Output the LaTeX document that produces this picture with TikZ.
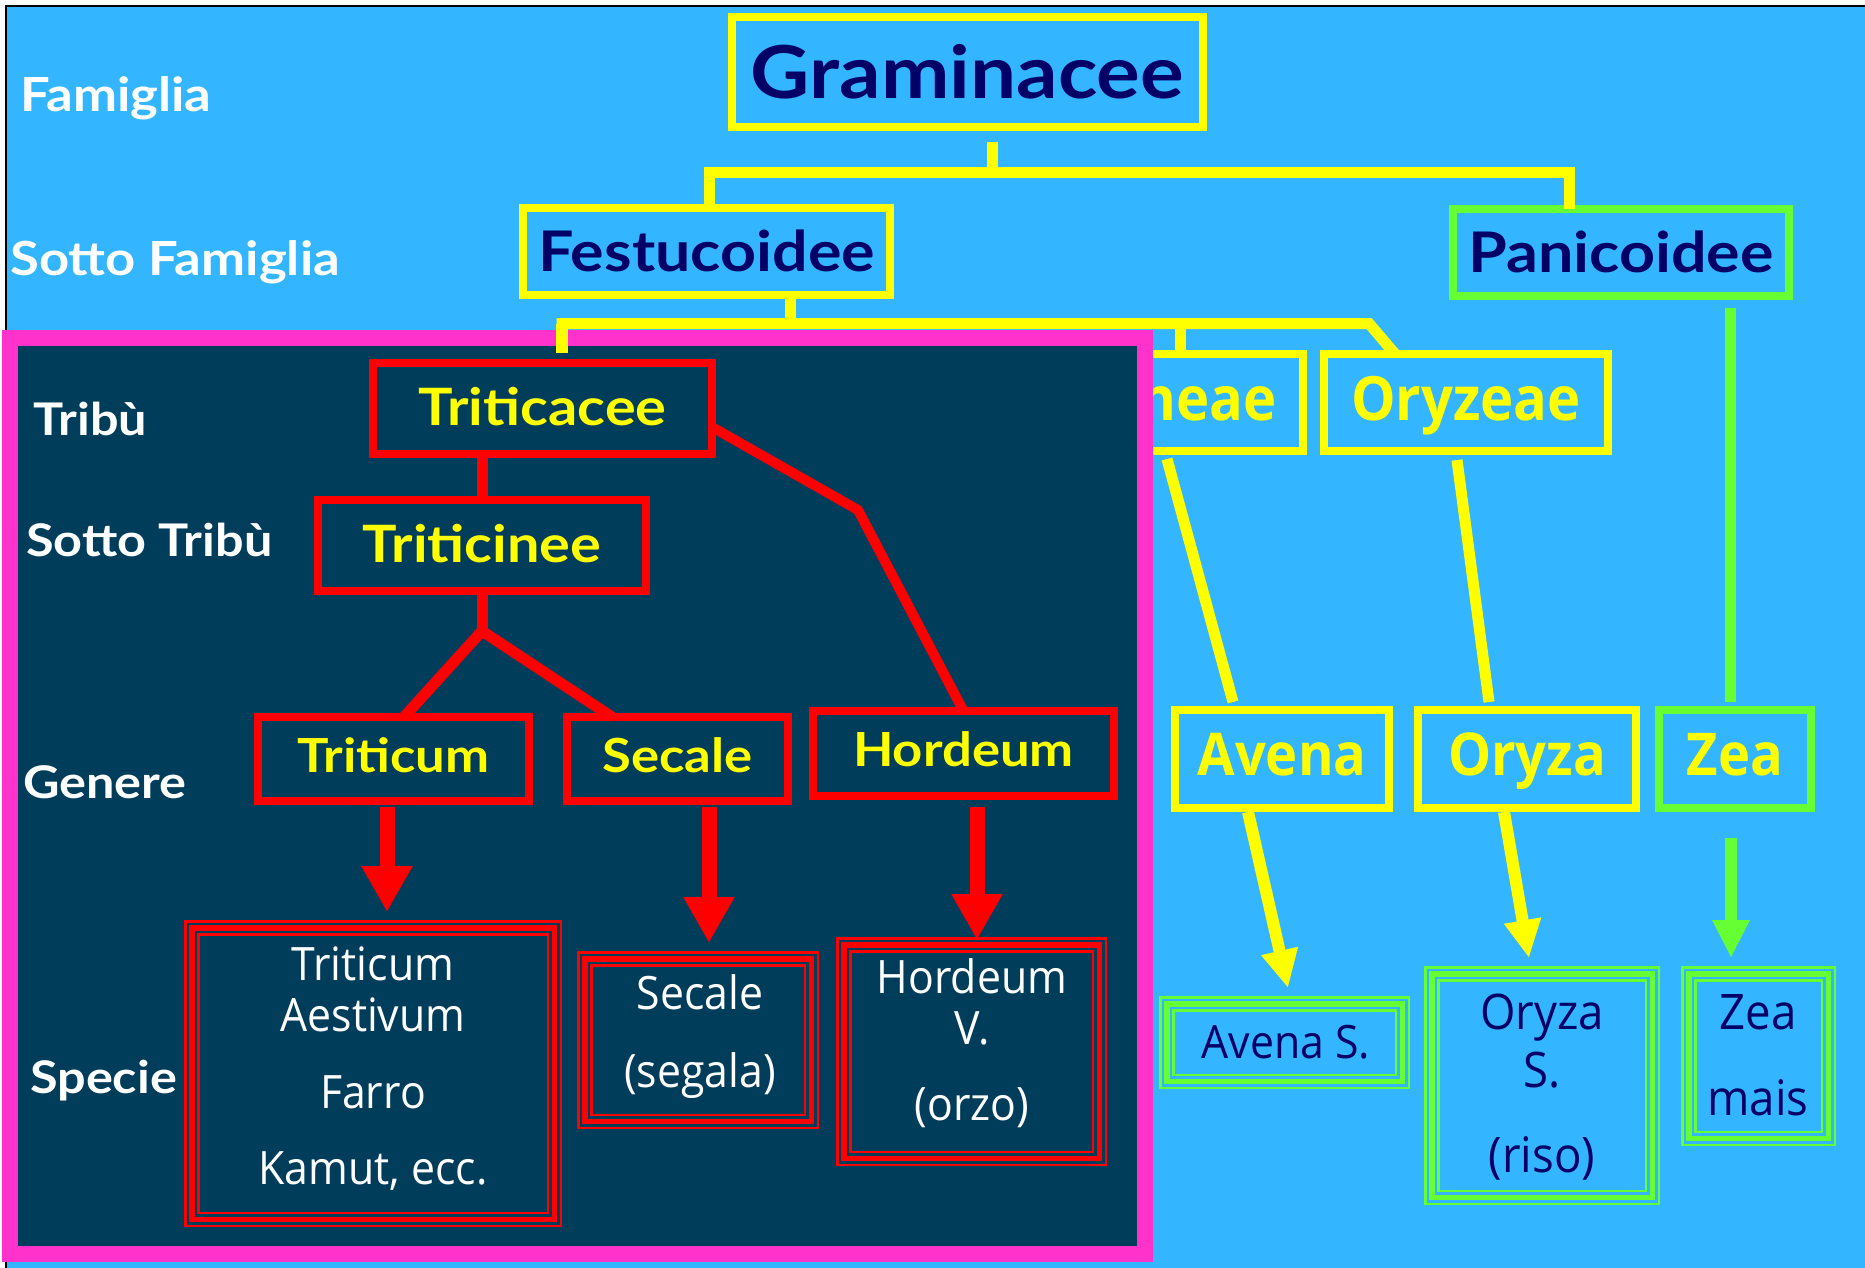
\documentclass[tikz,border=0pt]{standalone}
\usepackage{fontspec}
\usetikzlibrary{arrows.meta}
\newfontfamily\gillf{Lato}[FakeStretch=1.12]
\newfontfamily\comicf{Open Sans}[FakeStretch=0.93]
\newfontfamily\comicb{Open Sans}[FakeStretch=0.92]
\definecolor{bgblue}{RGB}{51,182,255}
\definecolor{darkfill}{RGB}{0,61,90}
\definecolor{pinkc}{RGB}{255,51,204}
\definecolor{yel}{RGB}{255,255,0}
\definecolor{grn}{RGB}{102,255,51}
\definecolor{navy}{RGB}{0,0,102}
\definecolor{redc}{RGB}{255,0,0}
\tikzset{
  bx/.style={line width=8pt, inner sep=0pt, outer sep=0pt},
  ybox/.style={bx, draw=yel},
  gbox/.style={bx, draw=grn},
  rbox/.style={bx, draw=redc},
  tribox/.style={line width=5.5pt, inner sep=0pt, outer sep=0pt},
  lab/.style={anchor=base west, inner sep=0pt, text=white},
  fGram/.style={font=\gillf\bfseries\fontsize{73}{80}\selectfont, text height=52pt, text depth=0pt},
  fSub/.style={font=\gillf\bfseries\fontsize{56}{64}\selectfont, text height=40pt, text depth=0pt},
  fTri/.style={font=\gillf\bfseries\fontsize{51.5}{60}\selectfont, text height=37pt, text depth=4pt},
  fGen/.style={font=\gillf\bfseries\fontsize{47}{54}\selectfont, text height=34pt, text depth=8pt},
  fLabA/.style={font=\gillf\bfseries\fontsize{47}{54}\selectfont},
  fLabB/.style={font=\gillf\bfseries\fontsize{45}{52}\selectfont},
  cTri/.style={font=\comicb\bfseries\fontsize{61}{70}\selectfont, text height=44pt, text depth=9pt},
  cGen/.style={font=\comicb\bfseries\fontsize{59}{68}\selectfont, text height=42pt, text depth=10pt},
  spw/.style={anchor=base, inner sep=0pt, text=white, font=\comicf\fontsize{46}{51}\selectfont},
  spn/.style={anchor=base, inner sep=0pt, text=navy, font=\comicf\fontsize{49}{58}\selectfont},
  ylink/.style={draw=yel, line width=11pt},
  glink/.style={draw=grn, line width=11pt},
  rlink/.style={draw=redc, line width=11pt},
  rarrow/.style={draw=redc, fill=redc, line width=15pt, -{Triangle[width=48pt,length=46pt]}},
  yarrow/.style={draw=yel, fill=yel, line width=12pt, -{Triangle[width=35pt,length=38pt]}},
  garrow/.style={draw=grn, fill=grn, line width=12pt, -{Triangle[width=35pt,length=38pt]}},
}
\begin{document}
\begin{tikzpicture}[x=1pt,y=-1pt]
\useasboundingbox (0,0) rectangle (1865,1268);
\fill[white] (0,0) rectangle (1865,1268);
\fill[bgblue] (6,6) rectangle (1865,1268);
\draw[black, line width=2pt] (6,1268) -- (6,6) -- (1865,6);

% ---- top level
\node[ybox, fGram, text=navy, minimum width=471pt, minimum height=110pt] (gram) at (967.5,72.5) {Graminacee};
\node[ybox, fSub, text=navy, minimum width=367pt, minimum height=87pt] (fest) at (706.5,251.5) {Festucoidee};
\node[gbox, fSub, text=navy, minimum width=336pt, minimum height=87pt] (pani) at (1621,252.5) {Panicoidee};

\node[lab, fLabA] (lFam) at (20,112) {Famiglia};
\node[lab, fLabA] (lSub) at (10,275) {Sotto Famiglia};

\coordinate (gStem) at (992,142);
\coordinate (gHub) at (992,172.5);
\coordinate (gLegF) at (709,172.5);
\coordinate (gLegP) at (1569,172.5);
\draw[ylink] (gStem) -- (gHub);
\draw[ylink, line join=miter] (gLegF |- fest.north) -- (gLegF) -- (gLegP) -- (gLegP |- pani.north);

% ---- tribes (right side)
\node[ybox, cTri, text=yel, minimum width=294pt, minimum height=97pt] (avenae) at (1156,402.5) {Aveneae};
\node[ybox, cTri, text=yel, minimum width=284pt, minimum height=97pt] (oryzeae) at (1466,402.5) {Oryzeae};

\coordinate (fJ) at (790,323.5);
\coordinate (fL) at (562,323.5);
\coordinate (fM) at (1180,323.5);
\coordinate (fR) at (1369,323.5);
\coordinate (fLend) at (562,353);
\draw[ylink] (fest.south -| fJ) -- (fJ);
\draw[ylink, line join=miter] (fLend) -- (fL) -- (fR) -- ([xshift=71pt]oryzeae.north west);
\draw[ylink] (fM) -- (avenae.north -| fM);

% ---- panel
\node[draw=pinkc, line width=16pt, fill=darkfill, inner sep=0pt, outer sep=0pt,
      minimum width=1135pt, minimum height=916pt] (panel) at (577.5,796) {};
\draw[ylink, line width=12pt] (fLend) -- (fL);

\node[lab, fLabB] (lTri) at (33,435) {Tribù};
\node[lab, fLabB] (lSTri) at (26,556) {Sotto Tribù};
\node[lab, fLabB] (lGen) at (23,798) {Genere};
\node[lab, fLabB] (lSpe) at (30,1093) {Specie};

% ---- red tree
\node[rbox, fTri, text=yel, minimum width=339pt, minimum height=91pt] (trc) at (542.5,408.5) {Triticacee};
\node[rbox, fTri, text=yel, minimum width=328pt, minimum height=91pt] (trn) at (482,545.5) {Triticinee};
\node[rbox, fGen, text=yel, minimum width=271pt, minimum height=84pt] (gTri) at (393.5,759) {Triticum};
\node[rbox, fGen, text=yel, minimum width=221pt, minimum height=84pt] (gSec) at (677.5,759) {Secale};
\node[rbox, fGen, text=yel, minimum width=301pt, minimum height=85pt] (gHor) at (963.5,753.5) {Hordeum};

\coordinate (rJ) at (482,631);
\coordinate (hK) at (858,510);
\draw[rlink] (trn.north |- trc.south) -- (trn.north);
\draw[rlink] (trn.south) -- (rJ);
\draw[rlink, line join=miter] ([xshift=10.5pt]gTri.north) -- (rJ) -- ([xshift=-65.5pt]gSec.north);
\draw[rlink, line width=10pt] ([yshift=-18.5pt]trc.east) -- (hK) -- (gHor.north);

% ---- species (red)
\node[tribox, draw=redc, minimum width=362.5pt, minimum height=291.5pt] (sTri) at (373,1073.5) {};
\node[tribox, draw=redc, minimum width=226.5pt, minimum height=162.5pt] (sSec) at (698,1040) {};
\node[tribox, draw=redc, minimum width=255.5pt, minimum height=213.5pt] (sHor) at (971.5,1051.5) {};
\foreach \n in {sTri,sSec,sHor}{
  \draw[redc, line width=2.5pt] ([shift={(-6.5pt,6.5pt)}]\n.north west) rectangle ([shift={(6.5pt,-6.5pt)}]\n.south east);
  \draw[redc, line width=2.5pt] ([shift={(6.5pt,-6.5pt)}]\n.north west) rectangle ([shift={(-6.5pt,6.5pt)}]\n.south east);
}
\node[spw] (tTri) at (373,980) {\begin{tabular}[t]{@{}c@{}}Triticum\\Aestivum\\[26pt]Farro\\[25pt]Kamut, ecc.\end{tabular}};
\node[spw] (tSec) at (700,1009) {\begin{tabular}[t]{@{}c@{}}Secale\\[27pt](segala)\end{tabular}};
\node[spw] (tHor) at (972,993) {\begin{tabular}[t]{@{}c@{}}Hordeum\\V.\\[25pt](orzo)\end{tabular}};

\draw[rarrow] ([xshift=-6.5pt,yshift=-6pt]gTri.south) -- ([xshift=14pt,yshift=15.75pt]sTri.north);
\draw[rarrow] ([xshift=31.5pt,yshift=-6pt]gSec.south) -- ([xshift=11pt,yshift=15.75pt]sSec.north);
\draw[rarrow] ([xshift=13.5pt,yshift=-11pt]gHor.south) -- ([xshift=5.5pt,yshift=4.75pt]sHor.north);

% ---- genera (right side)
\node[ybox, cGen, text=yel, minimum width=214pt, minimum height=98pt] (avena) at (1282,759) {Avena};
\node[ybox, cGen, text=yel, minimum width=218pt, minimum height=98pt] (oryza) at (1527,759) {Oryza};
\node[gbox, cGen, text=yel, minimum width=152pt, minimum height=98pt] (zea) at (1735,759) {Zea};

\draw[ylink, line width=11pt] ([xshift=11pt,yshift=-8pt]avenae.south) -- ([xshift=-49pt,yshift=8pt]avena.north);
\draw[ylink, line width=11pt] ([xshift=-9pt,yshift=-9pt]oryzeae.south) -- ([xshift=-38pt,yshift=8pt]oryza.north);
\draw[glink, line width=11pt] ([xshift=109pt,yshift=-12pt]pani.south) -- ([xshift=-5pt,yshift=8pt]zea.north);

% ---- species (green)
\node[tribox, draw=grn, minimum width=235.5pt, minimum height=77.5pt] (sAve) at (1284.5,1042.5) {};
\node[tribox, draw=grn, minimum width=220.5pt, minimum height=223.5pt] (sOry) at (1542,1085.5) {};
\node[tribox, draw=grn, minimum width=139.5pt, minimum height=164.5pt] (sZea) at (1758.5,1056) {};
\foreach \n in {sAve,sOry,sZea}{
  \draw[grn, line width=2.5pt] ([shift={(-6.5pt,6.5pt)}]\n.north west) rectangle ([shift={(6.5pt,-6.5pt)}]\n.south east);
  \draw[grn, line width=2.5pt] ([shift={(6.5pt,-6.5pt)}]\n.north west) rectangle ([shift={(-6.5pt,6.5pt)}]\n.south east);
}
\node[spn, font=\comicf\fontsize{46}{54}\selectfont] (tAve) at (1286,1058) {Avena S.};
\node[spn] (tOry) at (1542,1029) {\begin{tabular}[t]{@{}c@{}}Oryza\\S.\\[27pt](riso)\end{tabular}};
\node[spn] (tZea) at (1758,1029) {\begin{tabular}[t]{@{}c@{}}Zea\\[28pt]mais\end{tabular}};

\draw[yarrow] ([xshift=-34pt,yshift=-4pt]avena.south) -- ([xshift=3.5pt,yshift=15.75pt]sAve.north);
\draw[yarrow] ([xshift=-23pt,yshift=-4pt]oryza.south) -- ([xshift=-13pt,yshift=15.75pt]sOry.north);
\draw[garrow] ([xshift=-4pt,yshift=-30pt]zea.south) -- ([xshift=-27.5pt,yshift=15.75pt]sZea.north);
\end{tikzpicture}
\end{document}
